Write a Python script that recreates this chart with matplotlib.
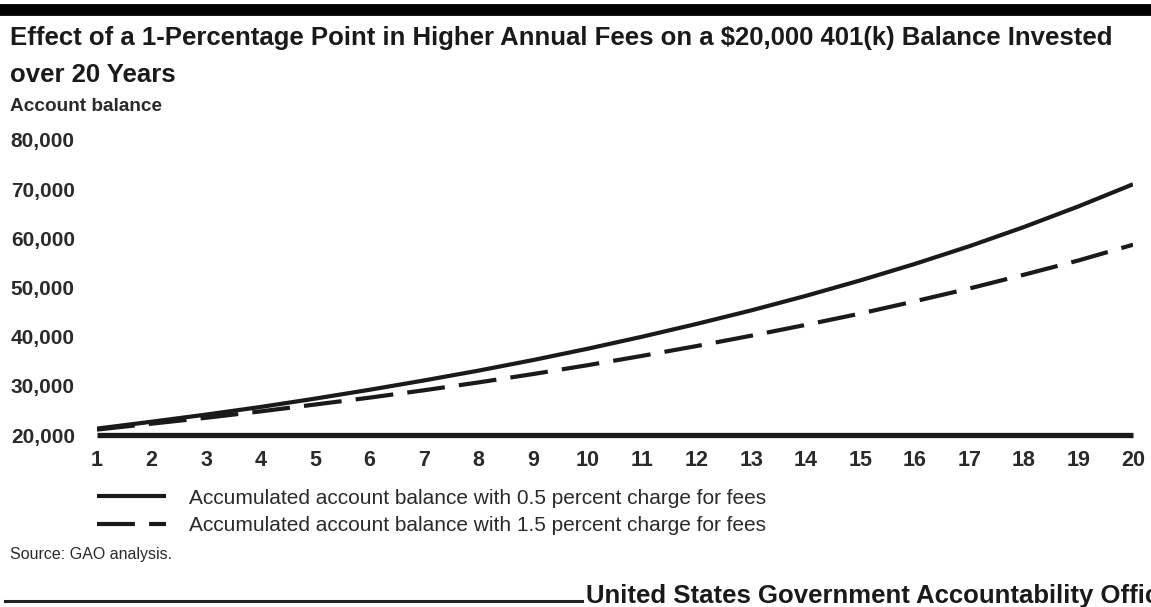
import matplotlib
matplotlib.use("Agg")
import matplotlib.pyplot as plt
from matplotlib.lines import Line2D

plt.rcParams['font.family'] = ['Liberation Sans', 'DejaVu Sans']

W, H = 1151, 607

years = list(range(1, 21))
# account balance, 0.5 percent fee
bal_low_fee = [21300, 22700, 24150, 25700, 27400, 29200, 31100, 33100, 35250, 37550,
               40000, 42600, 45350, 48300, 51450, 54800, 58400, 62300, 66500, 71000]
# account balance, 1.5 percent fee
bal_high_fee = [21100, 22300, 23500, 24800, 26200, 27600, 29100, 30700, 32400, 34200,
                36100, 38100, 40200, 42400, 44700, 47200, 49800, 52600, 55500, 58700]
yticks = [20000, 30000, 40000, 50000, 60000, 70000, 80000]
labels = ["Accumulated account balance with 0.5 percent charge for fees",
          "Accumulated account balance with 1.5 percent charge for fees"]

ink = '#1a1a1a'
fig = plt.figure(figsize=(W / 100, H / 100), dpi=100)

def px(x, y):
    return x / W, 1 - y / H

ax = fig.add_axes([97 / W, 1 - 435 / H, (1133 - 97) / W, (435 - 140) / H])
dash = (0, (9.1, 3.4))
l1, = ax.plot(years, bal_low_fee, color=ink, lw=3, solid_capstyle='butt')
l2, = ax.plot(years, bal_high_fee, color=ink, lw=3, linestyle=dash)

ax.set_xlim(1, 20)
ax.set_ylim(20000, 80000)
ax.set_xticks(years)
ax.set_yticks(yticks)
ax.set_yticklabels([f"{v:,}" for v in yticks])
for s in ['top', 'right', 'left']:
    ax.spines[s].set_visible(False)
ax.spines['bottom'].set_linewidth(3.8)
ax.spines['bottom'].set_color(ink)
ax.spines['bottom'].set_capstyle('butt')
ax.tick_params(length=0)
ax.tick_params(axis='y', pad=16, labelsize=15, labelcolor='#2a2a2a')
ax.tick_params(axis='x', pad=11, labelsize=15.5, labelcolor='#2a2a2a')
for t in ax.get_xticklabels() + ax.get_yticklabels():
    t.set_fontweight('bold')

# legend below the plot
fig.legend([l1, l2], labels, loc='upper left', bbox_to_anchor=px(78, 470),
           frameon=False, fontsize=15, handlelength=3.3, handletextpad=1.15,
           labelspacing=0.4, labelcolor='#2a2a2a')

# thick rule across the top
fig.add_artist(Line2D([0, 1], [1 - 10 / H, 1 - 10 / H], color='black', lw=8.5))

fig.text(*px(10, 45), "Effect of a 1-Percentage Point in Higher Annual Fees on a $20,000 401(k) Balance Invested",
         fontsize=18.5, fontweight='bold', color=ink, va='baseline')
fig.text(*px(10, 82), "over 20 Years", fontsize=18.5, fontweight='bold', color=ink, va='baseline')
fig.text(*px(10, 111), "Account balance", fontsize=13.7, fontweight='bold', color='#2a2a2a', va='baseline')
fig.text(*px(10, 559), "Source: GAO analysis.", fontsize=11.5, color='#2a2a2a', va='baseline')

# footer rule and agency name
fig.add_artist(Line2D([5 / W, 582 / W], [1 - 601 / H, 1 - 601 / H], color='#222222', lw=2.2))
fig.text(*px(586, 603), "United States Government Accountability Office",
         fontsize=18.5, fontweight='bold', color=ink, va='baseline')

fig.savefig("out.png", dpi=100)
